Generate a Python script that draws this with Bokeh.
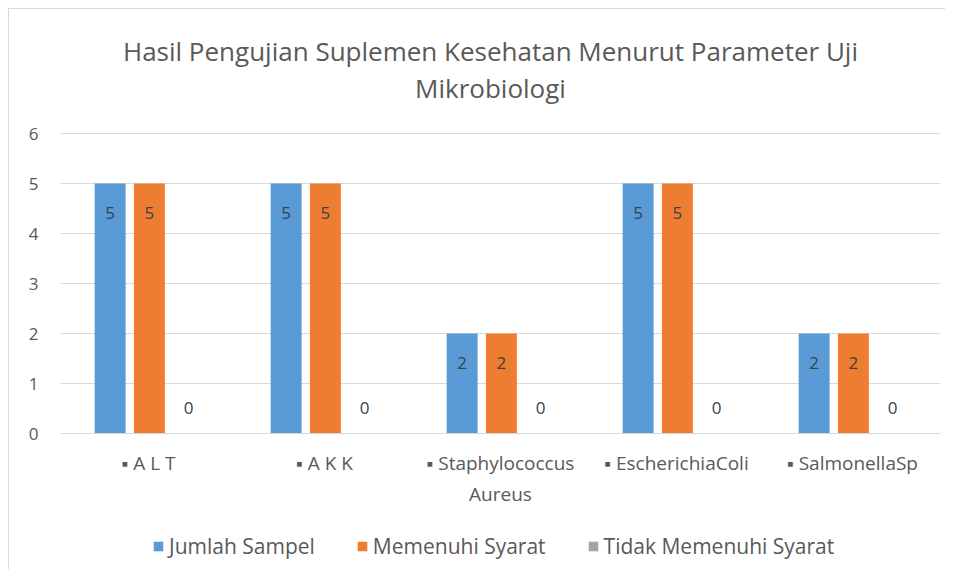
from bokeh.plotting import figure
from bokeh.models import ColumnDataSource, Legend, LegendItem, Label
from bokeh.transform import dodge
from bokeh.embed import file_html
from bokeh.resources import INLINE
from bokeh.core.properties import value

categories = ["▪ A L T", "▪ A K K", "▪ Staphylococcus\nAureus", "▪ EscherichiaColi", "▪ SalmonellaSp"]
jumlah_sampel = [5, 5, 2, 5, 2]
memenuhi_syarat = [5, 5, 2, 5, 2]
tidak_memenuhi = [0, 0, 0, 0, 0]
series_names = ["Jumlah Sampel", "Memenuhi Syarat", "Tidak Memenuhi Syarat"]
title_lines = ["Hasil Pengujian Suplemen Kesehatan Menurut Parameter Uji", "Mikrobiologi"]
y_ticks = [0, 1, 2, 3, 4, 5, 6]

FONT = "Open Sans"
TXT = "#595959"
colors = ["#5B9BD5", "#ED7D31", "#A5A5A5"]
offsets = [-0.218, 0.005, 0.228]
series = [jumlah_sampel, memenuhi_syarat, tidak_memenuhi]

# frame spans the whole card; value axis 0..6 occupies the middle band
p = figure(x_range=categories, y_range=(-2.72, 8.48), frame_width=880, frame_height=560,
           output_backend="svg", toolbar_location=None, title=None,
           min_border_left=51, min_border_right=5, min_border_top=0, min_border_bottom=0)
p.styles = {"border-left": "1px solid #D9D9D9", "border-top": "1px solid #D9D9D9"}
p.margin = (8, 0, 0, 8)

for txt, ty in zip(title_lines, [7.66, 6.92]):
    p.add_layout(Label(x=2.443, y=ty, text=txt, text_align="center", text_baseline="middle",
                       text_font=FONT, text_font_size="26px", text_color=TXT))

src = ColumnDataSource(dict(cat=categories))
items = []
for i, (vals, name, col, off) in enumerate(zip(series, series_names, colors, offsets)):
    key = f"s{i}"
    src.data[key] = vals
    src.data[key + "_lbl"] = [str(v) for v in vals]
    src.data[key + "_yoff"] = [29 if v > 0 else -26 for v in vals]
    r = p.vbar(x=dodge("cat", off, range=p.x_range), top=key, width=0.176, source=src,
               fill_color=col, line_color=None)
    p.text(x=dodge("cat", off, range=p.x_range), y=key, text=key + "_lbl", source=src,
           y_offset=key + "_yoff", text_align="center", text_baseline="middle",
           text_font=value(FONT), text_font_size="17px", text_color="#404040")
    items.append(LegendItem(label=name, renderers=[r]))

legend = Legend(items=items, orientation="horizontal", location=(92, 9),
                label_text_font=FONT, label_text_font_size="21px", label_text_color=TXT,
                glyph_width=12, glyph_height=12, spacing=41, border_line_color=None,
                background_fill_alpha=0, label_standoff=5, margin=0, padding=0)
p.add_layout(legend, "center")

p.xgrid.grid_line_color = None
p.ygrid.grid_line_color = "#D9D9D9"
p.ygrid.grid_line_width = 1
p.yaxis.ticker = y_ticks
p.yaxis.axis_line_color = None
p.yaxis.major_tick_line_color = None
p.yaxis.minor_tick_line_color = None
p.yaxis.major_label_text_font = FONT
p.yaxis.major_label_text_font_size = "17px"
p.yaxis.major_label_text_color = TXT
p.yaxis.major_label_standoff = 16
p.xaxis.fixed_location = 0
p.xaxis.axis_line_color = "#D9D9D9"
p.xaxis.major_tick_line_color = None
p.xaxis.minor_tick_line_color = None
p.xaxis.major_label_text_font = FONT
p.xaxis.major_label_text_font_size = "19px"
p.xaxis.major_label_text_color = TXT
p.xaxis.major_label_standoff = 10
p.outline_line_color = None

open("out.html", "w").write(file_html(p, INLINE))
